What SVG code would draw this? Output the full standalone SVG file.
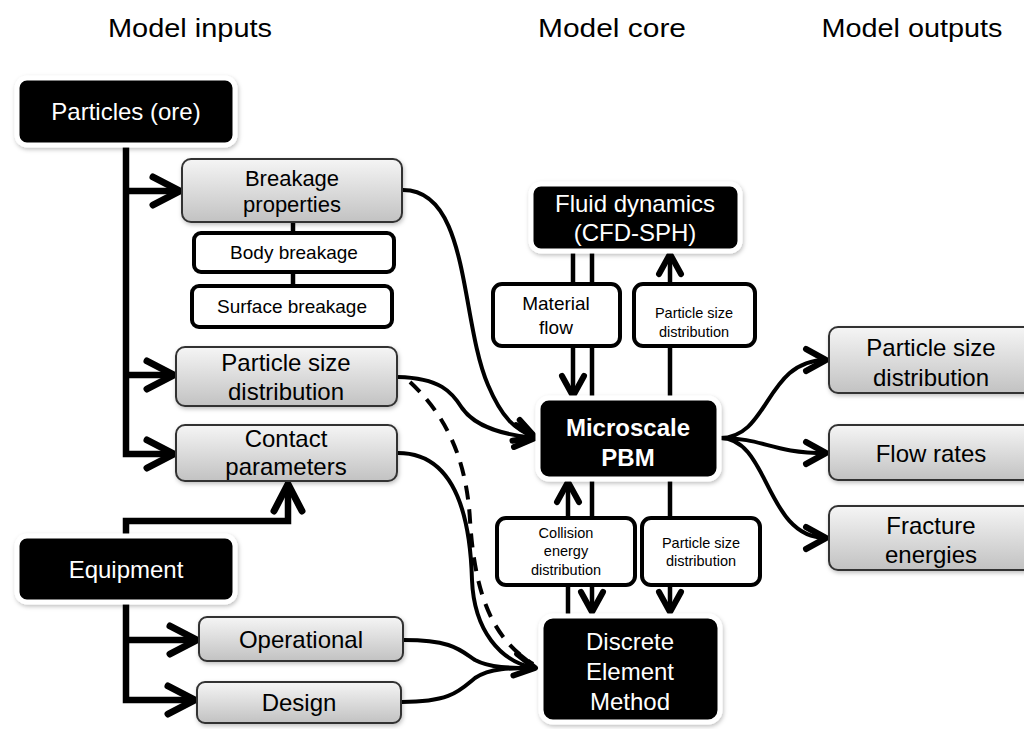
<svg xmlns="http://www.w3.org/2000/svg" width="1024" height="729" viewBox="0 0 1024 729">
<defs>
<linearGradient id="grey" x1="0" y1="0" x2="0" y2="1">
<stop offset="0" stop-color="#f5f5f5"/>
<stop offset="1" stop-color="#c2c2c2"/>
</linearGradient>
<filter id="sh" x="-20%" y="-20%" width="140%" height="140%">
<feDropShadow dx="1" dy="2" stdDeviation="2" flood-color="#000" flood-opacity="0.25"/>
</filter>
<marker id="big" viewBox="-34 -20 40 40" markerWidth="40" markerHeight="40" refX="0" refY="0" orient="auto" markerUnits="userSpaceOnUse" overflow="visible">
<path d="M-27,-14 L0,0 L-27,14" fill="none" stroke="#000" stroke-width="7" stroke-linecap="round" stroke-linejoin="round"/>
</marker>
<marker id="med" viewBox="-30 -20 36 40" markerWidth="36" markerHeight="40" refX="0" refY="0" orient="auto" markerUnits="userSpaceOnUse" overflow="visible">
<path d="M-20,-11 L0,0 L-20,11" fill="none" stroke="#000" stroke-width="6" stroke-linecap="round" stroke-linejoin="round"/>
</marker>
<marker id="sm" viewBox="-24 -16 30 32" markerWidth="30" markerHeight="32" refX="0" refY="0" orient="auto" markerUnits="userSpaceOnUse" overflow="visible">
<path d="M-15,-10 L0,0 L-15,10" fill="none" stroke="#000" stroke-width="5" stroke-linecap="round" stroke-linejoin="round"/>
</marker>
</defs>
<style>
text{font-family:"Liberation Sans",Arial,sans-serif;text-anchor:middle}
.hd{font-size:26px;fill:#000}
.blk{fill:#000;stroke:#fff;stroke-width:5;filter:url(#sh)}
.gry{fill:url(#grey);stroke:#333;stroke-width:2;filter:url(#sh)}
.wht{fill:#fff;stroke:#000;stroke-width:4}
.wt{fill:#fff}
.t24{font-size:24px}
.t22{font-size:22px}
.t19{font-size:19px}
.t14{font-size:14.5px}
.bold{font-weight:bold}
.ln{fill:none;stroke:#000;stroke-width:6.5;stroke-linejoin:miter}
.cv{fill:none;stroke:#000;stroke-width:4}
.cl{fill:none;stroke:#000;stroke-width:4.5}
</style>

<g id="headings">
<text class="hd" x="190" y="37" textLength="164" lengthAdjust="spacingAndGlyphs">Model inputs</text>
<text class="hd" x="612" y="37" textLength="148" lengthAdjust="spacingAndGlyphs">Model core</text>
<text class="hd" x="912" y="37" textLength="181" lengthAdjust="spacingAndGlyphs">Model outputs</text>
</g>

<g id="connectors">
<path class="ln" d="M126,146 V454 H174" marker-end="url(#big)"/>
<path class="ln" d="M126,191 H180" marker-end="url(#big)"/>
<path class="ln" d="M126,375 H174" marker-end="url(#big)"/>
<path class="cl" d="M293,222 V233 M293,272 V286"/>
<path class="ln" d="M126,534 V521 H288 V484" marker-end="url(#big)"/>
<path class="ln" d="M126,603 V700 H195" marker-end="url(#big)"/>
<path class="ln" d="M126,640 H197" marker-end="url(#big)"/>
<path class="cl" d="M573,252 V396" marker-end="url(#med)"/>
<path class="cl" d="M592,252 V398"/>
<path class="cl" d="M670,398 V254" marker-end="url(#med)"/>
<path class="cl" d="M568,616 V482" marker-end="url(#med)"/>
<path class="cl" d="M592,480 V612" marker-end="url(#med)"/>
<path class="cl" d="M670,480 V612" marker-end="url(#med)"/>
<path class="cv" d="M720,438 C770,438 765,360 826,360" marker-end="url(#med)"/>
<path class="cv" d="M720,438 C765,438 770,453 826,453" marker-end="url(#med)"/>
<path class="cv" d="M720,438 C770,438 765,538 826,538" marker-end="url(#med)"/>
<path class="cv" d="M403,190 C470,190 460,320 488,385 C502,418 515,430 535,437" marker-end="url(#med)"/>
<path class="cv" d="M398,377 C440,378 452,392 462,408 C476,428 505,435 535,438" marker-end="url(#med)"/>
<path class="cv" d="M410,382 C440,410 466,450 470,520 C475,600 495,640 533,664" stroke-dasharray="14 10"/>
<path class="cv" d="M398,453 C452,453 470,510 472,580 C474,630 500,662 535,668" marker-end="url(#med)"/>
<path class="cv" d="M404,640 C452,640 460,650 475,660 C490,668 510,668 535,668"/>
<path class="cv" d="M402,702 C452,702 460,690 475,678 C490,668 510,668 535,668"/>
</g>

<g id="particles">
<rect class="blk" x="17" y="78" width="218" height="67" rx="10"/>
<text class="wt t24" x="126" y="120">Particles (ore)</text>
</g>
<g id="breakage">
<rect class="gry" x="182" y="159" width="220" height="63" rx="9"/>
<text class="t22" x="292" y="186">Breakage</text>
<text class="t22" x="292" y="212">properties</text>
</g>
<g id="body-breakage">
<rect class="wht" x="194" y="233" width="200" height="39" rx="7"/>
<text class="t19" x="294" y="259">Body breakage</text>
</g>
<g id="surface-breakage">
<rect class="wht" x="192" y="286" width="200" height="41" rx="7"/>
<text class="t19" x="292" y="313">Surface breakage</text>
</g>
<g id="psd-in">
<rect class="gry" x="176" y="347" width="221" height="59" rx="9"/>
<text class="t24" x="286" y="371">Particle size</text>
<text class="t24" x="286" y="400">distribution</text>
</g>
<g id="contact">
<rect class="gry" x="176" y="425" width="221" height="56" rx="9"/>
<text class="t24" x="286" y="447">Contact</text>
<text class="t24" x="286" y="475">parameters</text>
</g>
<g id="equipment">
<rect class="blk" x="17" y="536" width="218" height="66" rx="10"/>
<text class="wt t24" x="126" y="578">Equipment</text>
</g>
<g id="operational">
<rect class="gry" x="199" y="617" width="204" height="44" rx="8"/>
<text class="t24" x="301" y="648">Operational</text>
</g>
<g id="design">
<rect class="gry" x="197" y="682" width="204" height="41" rx="8"/>
<text class="t24" x="299" y="711">Design</text>
</g>
<g id="fluid">
<rect class="blk" x="531" y="184" width="209" height="67" rx="10"/>
<text class="wt t24" x="635" y="212">Fluid dynamics</text>
<text class="wt t24" x="635" y="241">(CFD-SPH)</text>
</g>
<g id="material-flow">
<rect class="wht" x="493" y="284" width="127" height="62" rx="9"/>
<text class="t19" x="556" y="310">Material</text>
<text class="t19" x="556" y="334">flow</text>
</g>
<g id="psd-top">
<rect class="wht" x="634" y="284" width="121" height="62" rx="9"/>
<text class="t14" x="694" y="318">Particle size</text>
<text class="t14" x="694" y="337">distribution</text>
</g>
<g id="microscale">
<rect class="blk" x="538" y="398" width="181" height="81" rx="11"/>
<text class="wt t24 bold" x="628" y="436">Microscale</text>
<text class="wt t24 bold" x="628" y="466">PBM</text>
</g>
<g id="collision">
<rect class="wht" x="497" y="518" width="138" height="67" rx="9"/>
<text class="t14" x="566" y="538">Collision</text>
<text class="t14" x="566" y="556">energy</text>
<text class="t14" x="566" y="575">distribution</text>
</g>
<g id="psd-bottom">
<rect class="wht" x="642" y="518" width="118" height="67" rx="9"/>
<text class="t14" x="701" y="548">Particle size</text>
<text class="t14" x="701" y="566">distribution</text>
</g>
<g id="dem">
<rect class="blk" x="541" y="616" width="179" height="106" rx="12"/>
<text class="wt t24" x="630" y="650">Discrete</text>
<text class="wt t24" x="630" y="680">Element</text>
<text class="wt t24" x="630" y="710">Method</text>
</g>
<g id="out-psd">
<rect class="gry" x="829" y="327" width="205" height="66" rx="9"/>
<text class="t24" x="931" y="356">Particle size</text>
<text class="t24" x="931" y="386">distribution</text>
</g>
<g id="out-flow">
<rect class="gry" x="829" y="425" width="205" height="55" rx="9"/>
<text class="t24" x="931" y="462">Flow rates</text>
</g>
<g id="out-fracture">
<rect class="gry" x="829" y="506" width="205" height="64" rx="9"/>
<text class="t24" x="931" y="534">Fracture</text>
<text class="t24" x="931" y="563">energies</text>
</g>
</svg>
